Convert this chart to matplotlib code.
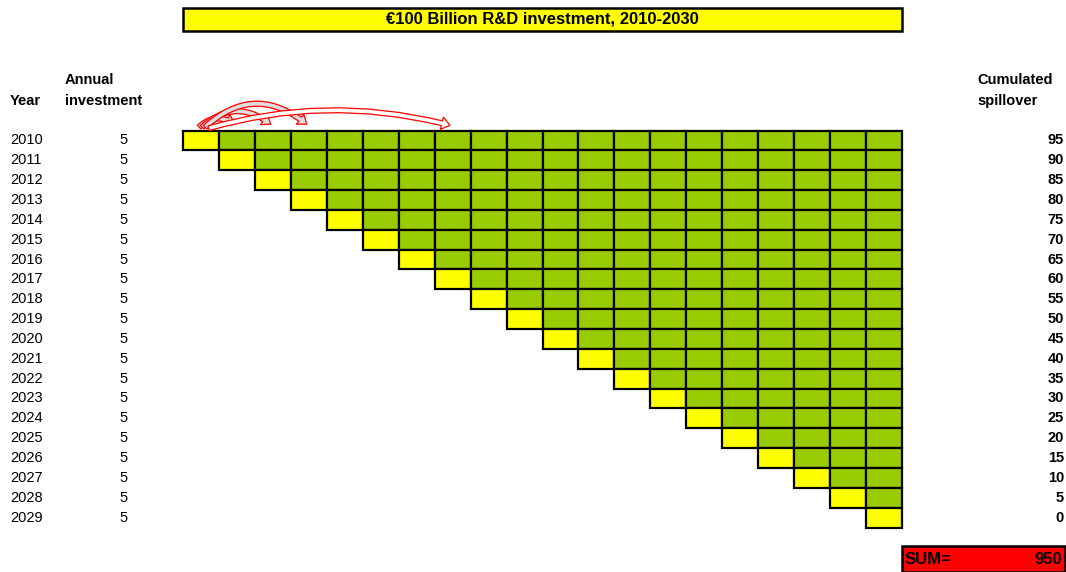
import matplotlib
matplotlib.use("Agg")
import matplotlib.pyplot as plt
from matplotlib.patches import Rectangle, FancyArrowPatch

plt.rcParams['font.family'] = ['Liberation Sans', 'DejaVu Sans']

years = list(range(2010, 2030))
investment = [5] * 20
spillover = [95, 90, 85, 80, 75, 70, 65, 60, 55, 50, 45, 40, 35, 30, 25, 20, 15, 10, 5, 0]
total = 950
title = "€100 Billion R&D investment, 2010-2030"
arrow_targets = [1, 2, 3, 7]

YELLOW = "#FFFF00"
GREEN = "#99CC00"
RED = "#FF0000"

fig = plt.figure(figsize=(10.66, 5.72), dpi=100)
ax = fig.add_axes([0, 0, 1, 1])
ax.set_xlim(0, 1066)
ax.set_ylim(572, 0)
ax.axis("off")

x0, y0 = 183, 130.5
cw, rh = 35.95, 19.85
ncol = len(years)

# grid of cells: yellow = year of investment, green = spillover years
for i, yr in enumerate(years):
    for c in range(i, ncol):
        fc = YELLOW if c == i else GREEN
        ax.add_patch(Rectangle((x0 + c * cw, y0 + i * rh), cw, rh,
                               facecolor=fc, edgecolor="black", lw=1.6, zorder=2))
    yc = y0 + (i + 0.5) * rh
    ax.text(10, yc, str(yr), fontsize=10.5, va="center", ha="left")
    ax.text(128, yc, str(investment[i]), fontsize=10.5, va="center", ha="right")
    ax.text(1064, yc, str(spillover[i]), fontsize=10.5, va="center", ha="right",
            fontweight="bold")

# headers
hdr = dict(fontsize=10.5, fontweight="bold", va="center", ha="left")
ax.text(10, 101, "Year", **hdr)
ax.text(65, 80, "Annual", **hdr)
ax.text(65, 101, "investment", **hdr)
ax.text(977, 80, "Cumulated", **hdr)
ax.text(977, 101, "spillover", **hdr)

# title box
ax.add_patch(Rectangle((183, 8), 719, 23, facecolor=YELLOW, edgecolor="black",
                       lw=1.8, zorder=2))
ax.text(542.5, 19.5, title, fontsize=12, fontweight="bold", ha="center",
        va="center", zorder=3)

# sum box
ax.add_patch(Rectangle((902, 546), 163, 26, facecolor=RED, edgecolor="black",
                       lw=1.8, zorder=2))
ax.text(905, 560, "SUM=", fontsize=12, fontweight="bold", ha="left", va="center", zorder=3)
ax.text(1062, 560, str(total), fontsize=12, fontweight="bold", ha="right",
        va="center", zorder=3)

# red spillover arrows from first investment
for k, c in enumerate(arrow_targets):
    tx = x0 + (c + 0.5) * cw
    arr = FancyArrowPatch((197 + k * 3, 129), (tx, 126),
                          connectionstyle="arc3,rad=-0.45" if c < 5 else "arc3,rad=-0.14",
                          arrowstyle="simple,head_width=9,head_length=6,tail_width=3.5",
                          facecolor="#DDDDDD" if c < 5 else "white",
                          edgecolor=RED, lw=0.9, zorder=4)
    ax.add_patch(arr)

fig.savefig("out.png", dpi=100)
